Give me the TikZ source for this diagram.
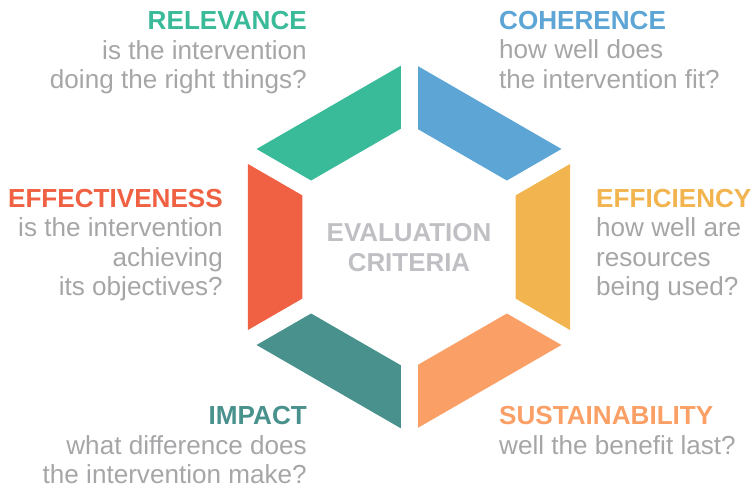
\documentclass[tikz,border=0pt]{standalone}
\usepackage{fontspec}
\setmainfont{Liberation Sans}
\usetikzlibrary{positioning}
\definecolor{relgreen}{RGB}{57,186,152}
\definecolor{cohblue}{RGB}{92,165,213}
\definecolor{effred}{RGB}{240,96,66}
\definecolor{effyellow}{RGB}{242,180,78}
\definecolor{impteal}{RGB}{72,145,140}
\definecolor{susorange}{RGB}{250,160,102}
\definecolor{txtgray}{RGB}{166,166,168}
\definecolor{midgray}{RGB}{192,192,196}

\begin{document}
\begin{tikzpicture}[x=1bp, y=1bp]
\tikzset{crit/.style={font=\fontsize{26.2}{29.6}\selectfont, text=txtgray, inner sep=0pt}}
\useasboundingbox (-409,-241) rectangle (346,247);
% ring of six segments, cut at the corners
\foreach \a/\c in {90/relgreen,150/effred,210/impteal,270/susorange,330/effyellow,30/cohblue}
  \fill[\c] (\a:186) -- (\a+60:186) -- (\a+60:123) -- (\a:123) -- cycle;
\foreach \a in {30,90,...,330}
  \draw[white, line width=17bp] (\a:114) -- (\a:196);
\node[crit, align=center, anchor=north, text=midgray, font=\bfseries\fontsize{26}{30}\selectfont]
  (center) at (0,23.9) {EVALUATION\\CRITERIA};
\node[crit, align=right, anchor=north east] (relevance) at (-102,235.6)
  {\textbf{\textcolor{relgreen}{RELEVANCE}}\\is the intervention\\doing the right things?};
\node[crit, align=left, anchor=north west] (coherence) at (90,236.3)
  {\textbf{\textcolor{cohblue}{COHERENCE}}\\how well does\\the intervention fit?};
\node[crit, align=right, anchor=north east] (effectiveness) at (-186,58.3)
  {\textbf{\textcolor{effred}{EFFECTIVENESS}}\\is the intervention\\achieving\\its objectives?};
\node[crit, align=left, anchor=north west] (efficiency) at (187,58.3)
  {\textbf{\textcolor{effyellow}{EFFICIENCY}}\\how well are\\resources\\being used?};
\node[crit, align=right, anchor=north east] (impact) at (-102,-159.5)
  {\textbf{\textcolor{impteal}{IMPACT}}\\what difference does\\the intervention make?};
\node[crit, align=left, anchor=north west] (sustainability) at (90,-159.5)
  {\textbf{\textcolor{susorange}{SUSTAINABILITY}}\\well the benefit last?};
\end{tikzpicture}
\end{document}
